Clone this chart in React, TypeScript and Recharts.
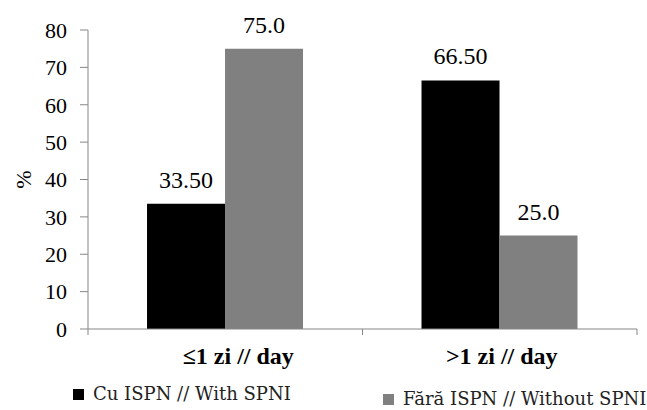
import React from 'react';
import { BarChart, Bar, XAxis, YAxis, Legend, LabelList } from 'recharts';

const categories = ['≤1 zi // day', '>1 zi // day'];
const withSpni = [33.5, 66.5];
const withoutSpni = [75.0, 25.0];
const withSpniLabels = ['33.50', '66.50'];
const withoutSpniLabels = ['75.0', '25.0'];
const yTicks = [0, 10, 20, 30, 40, 50, 60, 70, 80];
const seriesNames = ['Cu ISPN // With SPNI', 'Fără ISPN // Without SPNI'];
const seriesColors = ['#000000', '#808080'];

const data = categories.map((cat, i) => ({
  cat,
  with: withSpni[i],
  without: withoutSpni[i],
  withLabel: withSpniLabels[i],
  withoutLabel: withoutSpniLabels[i],
}));

const serif = 'Liberation Serif';
const axisGray = '#878787';
// the first label sits a bit right of centre in the original
const labelShift = [13, 2];

// category label + excel style boundary ticks between categories
const CategoryTick = (props: any) => {
  const { x, y, payload, index } = props;
  const half = payload.offset || 0;
  return (
    <g>
      {index === 0 && <line x1={x - half} x2={x - half} y1={y} y2={y + 6} stroke={axisGray} />}
      <line x1={x + half} x2={x + half} y1={y} y2={y + 6} stroke={axisGray} />
      <text
        x={x + (labelShift[index] || 0)}
        y={y + 35}
        textAnchor="middle"
        style={{ fontFamily: serif, fontWeight: 700, fontSize: 24 }}
        fill="#000"
      >
        {payload.value}
      </text>
    </g>
  );
};

const renderLegend = () => {
  const spots = [
    { left: 73, top: 23 },
    { left: 383, top: 28 },
  ];
  return (
    <div style={{ position: 'relative', width: 647, height: 50 }}>
      {seriesNames.map((name, i) => (
        <div
          key={name}
          style={{
            position: 'absolute',
            left: spots[i].left,
            top: spots[i].top,
            display: 'flex',
            alignItems: 'center',
            fontFamily: 'DejaVu Serif',
            fontSize: 18,
            color: '#222',
            whiteSpace: 'nowrap',
            lineHeight: '22px',
          }}
        >
          <span style={{ display: 'inline-block', width: 11, height: 11, background: seriesColors[i], marginRight: 9 }} />
          {name}
        </div>
      ))}
    </div>
  );
};

const App = () => {
  return (
    <div style={{ position: 'absolute', left: 0, top: 0, background: '#fff' }}>
      <BarChart
        width={647}
        height={410}
        data={data}
        margin={{ top: 30, right: 10, left: 0, bottom: 0 }}
        barCategoryGap="21.5%"
        barGap={0}
      >
        <XAxis
          dataKey="cat"
          height={31}
          axisLine={{ stroke: axisGray }}
          tickLine={false}
          tickSize={0}
          tickMargin={0}
          tick={<CategoryTick />}
          interval={0}
        />
        <YAxis
          width={88}
          domain={[0, 80]}
          ticks={yTicks}
          interval={0}
          axisLine={{ stroke: axisGray }}
          tickLine={{ stroke: axisGray }}
          tickSize={8}
          tickMargin={13}
          tick={{ style: { fontFamily: serif, fontSize: 22 }, fill: '#000' }}
          label={{
            content: (p: any) => {
              const vb = p.viewBox;
              const cx = vb.x + 23;
              const cy = vb.y + vb.height / 2;
              return (
                <text
                  x={cx}
                  y={cy}
                  transform={`rotate(-90, ${cx}, ${cy})`}
                  textAnchor="middle"
                  dominantBaseline="central"
                  style={{ fontFamily: serif, fontSize: 22 }}
                  fill="#000"
                >
                  %
                </text>
              );
            },
          }}
        />
        <Legend verticalAlign="bottom" content={renderLegend} wrapperStyle={{ left: 0, width: 647, height: 50 }} />
        <Bar dataKey="with" name={seriesNames[0]} fill={seriesColors[0]} isAnimationActive={false}>
          <LabelList dataKey="withLabel" position="top" offset={16} style={{ fontFamily: serif, fontSize: 24 }} fill="#000" />
        </Bar>
        <Bar dataKey="without" name={seriesNames[1]} fill={seriesColors[1]} isAnimationActive={false}>
          <LabelList dataKey="withoutLabel" position="top" offset={16} style={{ fontFamily: serif, fontSize: 24 }} fill="#000" />
        </Bar>
      </BarChart>
    </div>
  );
};

export default App;
